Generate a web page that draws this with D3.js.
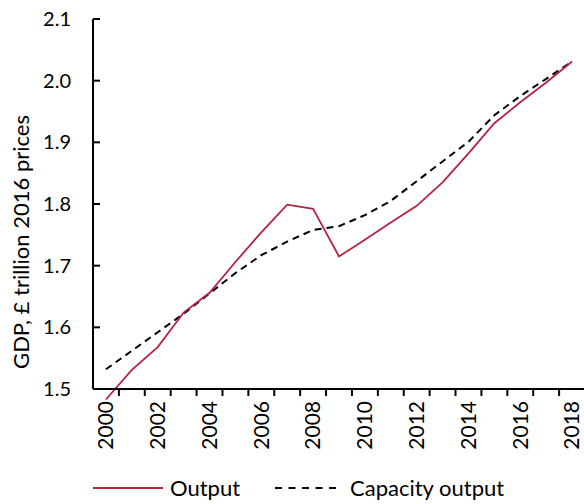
<!DOCTYPE html>
<html>
<head>
<meta charset="utf-8">
<script src="https://cdn.jsdelivr.net/npm/d3@7"></script>
<style>
  html, body { margin: 0; padding: 0; background: #fff; }
  svg { display: block; }
  text { font-family: Lato, "Open Sans", sans-serif; fill: #000; }
</style>
</head>
<body>
<svg id="chart" width="584" height="504"></svg>
<script>
const years = [2000,2001,2002,2003,2004,2005,2006,2007,2008,2009,2010,2011,2012,2013,2014,2015,2016,2017,2018];
const output = [1.483,1.531,1.568,1.624,1.656,1.706,1.754,1.799,1.792,1.715,1.742,1.770,1.797,1.835,1.882,1.931,1.965,1.997,2.031];
const capacity = [1.532,1.562,1.592,1.622,1.655,1.688,1.717,1.739,1.758,1.764,1.782,1.805,1.837,1.869,1.901,1.944,1.975,2.003,2.031];
const yTicks = [1.5,1.6,1.7,1.8,1.9,2.0,2.1];
const xLabels = [2000,2002,2004,2006,2008,2010,2012,2014,2016,2018];
const seriesNames = ["Output","Capacity output"];
const yTitle = "GDP, \u00a3 trillion 2016 prices";

const svg = d3.select("#chart");
const pLeft = 93, pRight = 585, pTop = 19, pBottom = 389;

const x = d3.scaleBand().domain(years).range([pLeft, pRight]);
const y = d3.scaleLinear().domain([1.5, 2.1]).range([pBottom, pTop]);
const cx = d => x(d) + x.bandwidth() / 2;

// series lines
const line = d3.line().x((d, i) => cx(years[i])).y(d => y(d));
svg.append("path").datum(capacity).attr("d", line)
  .attr("fill", "none").attr("stroke", "#000").attr("stroke-width", 2)
  .attr("stroke-dasharray", "7,5");
svg.append("path").datum(output).attr("d", line)
  .attr("fill", "none").attr("stroke", "#b5233f").attr("stroke-width", 1.8)
  .attr("stroke-linejoin", "miter");

// y axis
const gy = svg.append("g");
gy.append("line").attr("x1", pLeft).attr("x2", pLeft).attr("y1", y(2.1)).attr("y2", y(1.5))
  .attr("stroke", "#000").attr("stroke-width", 2);
yTicks.forEach(t => {
  gy.append("line").attr("x1", pLeft).attr("x2", pLeft + 7).attr("y1", y(t)).attr("y2", y(t))
    .attr("stroke", "#000").attr("stroke-width", 2);
  gy.append("text").attr("x", 71).attr("y", y(t)).attr("dy", "0.35em")
    .attr("text-anchor", "end").attr("font-size", 20).text(d3.format(".1f")(t));
});

// x axis
const gx = svg.append("g");
gx.append("line").attr("x1", pLeft).attr("x2", pRight).attr("y1", pBottom).attr("y2", pBottom)
  .attr("stroke", "#000").attr("stroke-width", 2);
years.concat([null]).forEach((yr, i) => {
  const px = yr === null ? pRight : x(yr);
  if (i === 0) return;
  gx.append("line").attr("x1", px).attr("x2", px).attr("y1", pBottom).attr("y2", pBottom + 7)
    .attr("stroke", "#000").attr("stroke-width", 2);
});
xLabels.forEach(yr => {
  gx.append("text")
    .attr("transform", `translate(${cx(yr)},${pBottom + 12}) rotate(-90)`)
    .attr("dy", "0.35em").attr("text-anchor", "end").attr("font-size", 21).text(yr);
});

// y title
svg.append("text")
  .attr("transform", `translate(29,242) rotate(-90)`)
  .attr("text-anchor", "middle").attr("font-size", 22).text(yTitle);

// legend
const ly = 488;
svg.append("line").attr("x1", 93).attr("x2", 163).attr("y1", ly).attr("y2", ly)
  .attr("stroke", "#b5233f").attr("stroke-width", 1.8);
svg.append("text").attr("x", 170).attr("y", ly).attr("dy", "0.35em").attr("font-size", 22).text(seriesNames[0]);
svg.append("line").attr("x1", 275).attr("x2", 338).attr("y1", ly).attr("y2", ly)
  .attr("stroke", "#000").attr("stroke-width", 2).attr("stroke-dasharray", "7,6.5");
svg.append("text").attr("x", 350).attr("y", ly).attr("dy", "0.35em").attr("font-size", 22).text(seriesNames[1]);
</script>
</body>
</html>
